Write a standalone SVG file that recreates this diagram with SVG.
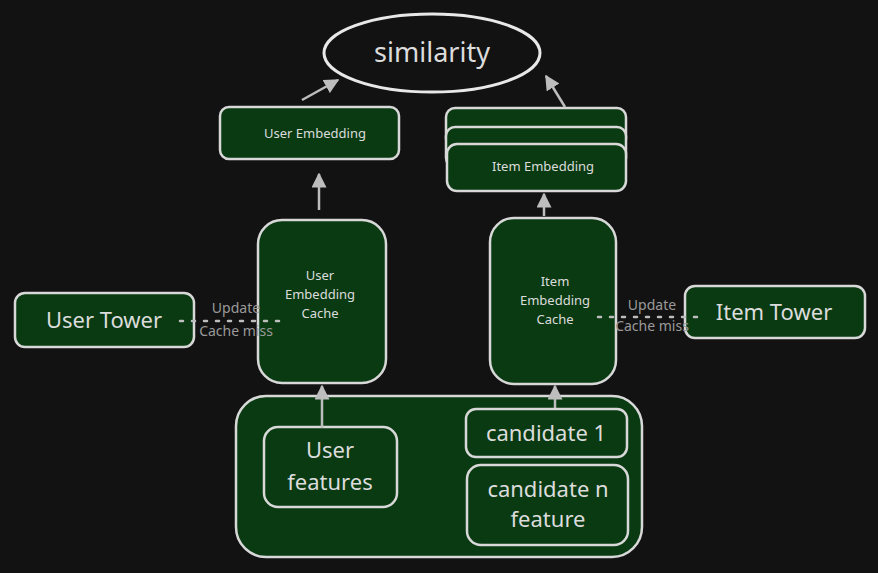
<svg xmlns="http://www.w3.org/2000/svg" width="878" height="573" viewBox="0 0 878 573">
<style>
.bg{fill:#121212}
.box{fill:#0a3a12;stroke:#d8d8d8;stroke-width:2.5}
.t{font-family:"Noto Sans","Open Sans",sans-serif;fill:#dcdcdc;text-anchor:middle}
.s{font-size:13px}
.l{font-size:22px}
.g{font-size:14px;fill:#9a9a9a}
.c{fill:none;stroke:#bdbdbd;stroke-width:2.5}
.d{fill:none;stroke:#bdbdbd;stroke-width:2.5;stroke-dasharray:3 9;stroke-linecap:round}
</style>
<defs>
<marker id="ah" viewBox="0 0 10 10" refX="9" refY="5" markerWidth="6" markerHeight="6" orient="auto">
<path d="M0,0 L10,5 L0,10 z" fill="#bdbdbd"/>
</marker>
</defs>
<rect class="bg" width="878" height="573"/>
<g id="similarity">
<ellipse cx="432" cy="53" rx="108" ry="39" fill="#121212" stroke="#e8e8e8" stroke-width="3"/>
<text class="t" x="432" y="62" font-size="27" fill="#e8e8e8">similarity</text>
</g>
<g id="user-embedding">
<rect class="box" x="220" y="107" width="179" height="52" rx="9"/>
<text class="t s" x="315" y="138">User Embedding</text>
</g>
<g id="item-embedding">
<rect class="box" x="446" y="108" width="180" height="40" rx="9"/>
<rect class="box" x="446" y="127" width="180" height="40" rx="9"/>
<rect class="box" x="447" y="144" width="179" height="47" rx="10"/>
<text class="t s" x="543" y="171">Item Embedding</text>
</g>
<g id="user-embedding-cache">
<rect class="box" x="258" y="220" width="128" height="163" rx="24"/>
<text class="t s" x="320" y="280" fill="#c8c8c8">User</text>
<text class="t s" x="320" y="299" fill="#c8c8c8">Embedding</text>
<text class="t s" x="320" y="318" fill="#c8c8c8">Cache</text>
</g>
<g id="item-embedding-cache">
<rect class="box" x="490" y="218" width="126" height="166" rx="24"/>
<text class="t s" x="555" y="286" fill="#c8c8c8">Item</text>
<text class="t s" x="555" y="305" fill="#c8c8c8">Embedding</text>
<text class="t s" x="555" y="324" fill="#c8c8c8">Cache</text>
</g>
<g id="user-tower">
<rect class="box" x="15" y="293" width="179" height="54" rx="10"/>
<text class="t l" x="104" y="328" fill="#c8c8c8">User Tower</text>
</g>
<g id="item-tower">
<rect class="box" x="685" y="286" width="180" height="52" rx="10"/>
<text class="t l" x="774" y="320" fill="#c8c8c8">Item Tower</text>
</g>
<g id="features">
<rect class="box" x="236" y="396" width="406" height="161" rx="30"/>
</g>
<g id="user-features">
<rect class="box" x="264" y="427" width="133" height="80" rx="14"/>
<text class="t l" x="330" y="458" fill="#b4b4b4">User</text>
<text class="t l" x="330" y="490" fill="#b4b4b4">features</text>
</g>
<g id="candidate-1">
<rect class="box" x="466" y="409" width="161" height="48" rx="10"/>
<text class="t l" x="546" y="441">candidate 1</text>
</g>
<g id="candidate-n">
<rect class="box" x="467" y="465" width="161" height="80" rx="14"/>
<text class="t l" x="548" y="497">candidate n</text>
<text class="t l" x="548" y="527">feature</text>
</g>
<g id="connectors">
<line class="c" x1="302" y1="100" x2="338" y2="80" marker-end="url(#ah)"/>
<line class="c" x1="565" y1="107" x2="546" y2="76" marker-end="url(#ah)"/>
<line class="c" x1="319" y1="210" x2="319" y2="174" marker-end="url(#ah)"/>
<line class="c" x1="544" y1="216" x2="544" y2="194" marker-end="url(#ah)"/>
<line class="c" x1="322" y1="428" x2="322" y2="386" marker-end="url(#ah)"/>
<line class="c" x1="555" y1="408" x2="555" y2="386" marker-end="url(#ah)"/>
<line class="d" x1="180" y1="321" x2="288" y2="321"/>
<line class="d" x1="598" y1="317" x2="704" y2="317"/>
<text class="t g" x="236" y="313">Update</text>
<text class="t g" x="236" y="336">Cache miss</text>
<text class="t g" x="652" y="310">Update</text>
<text class="t g" x="652" y="331">Cache miss</text>
</g>
</svg>
